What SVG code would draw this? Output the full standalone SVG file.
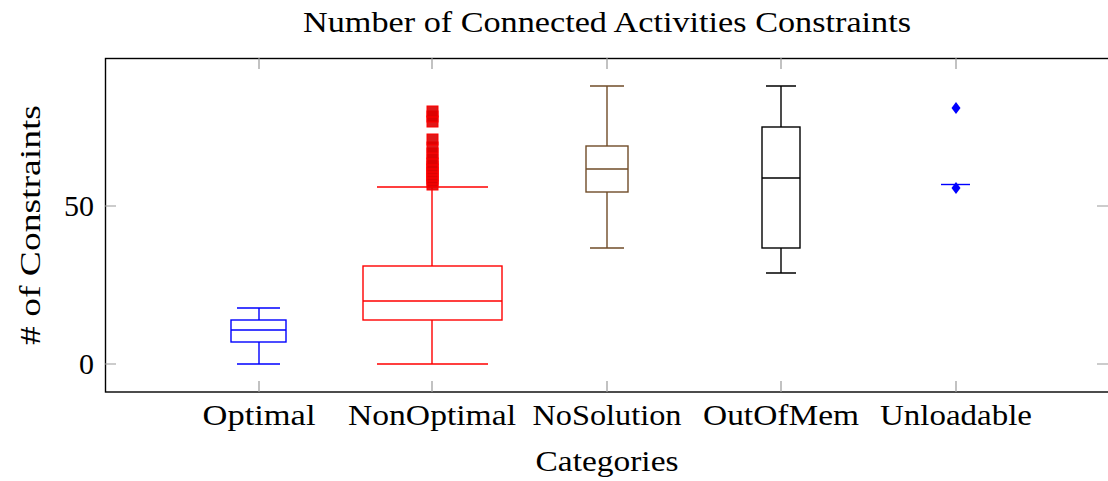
<svg xmlns="http://www.w3.org/2000/svg" width="1108" height="481" viewBox="0 0 1108 481">
  <style>
    .txt { font-family: "Liberation Serif", "DejaVu Serif", serif; fill: #000; font-size: 29px; }
    .tick { stroke: #9a9a9a; stroke-width: 1.2; fill: none; }
    .box { fill: none; stroke-width: 1.4; }
  </style>
  <rect width="1108" height="481" fill="#fff"/>

  <!-- title -->
  <text class="txt" x="607" y="32" text-anchor="middle" textLength="608" lengthAdjust="spacingAndGlyphs">Number of Connected Activities Constraints</text>

  <!-- axes frame and ticks -->
  <g id="axes">
    <rect x="105.5" y="58.5" width="1010" height="333.5" fill="none" stroke="#000" stroke-width="1.4"/>
    <path class="tick" d="M105 206H116M105 364H116M1097 206H1108M1097 364H1108"/>
    <path class="tick" d="M259 392V381M432 392V381M607 392V381M781 392V381M956 392V381M259 58V69M432 58V69M607 58V69M781 58V69M956 58V69"/>
    <text class="txt" x="94" y="216" text-anchor="end" textLength="30" lengthAdjust="spacingAndGlyphs">50</text>
    <text class="txt" x="94" y="374" text-anchor="end" textLength="15" lengthAdjust="spacingAndGlyphs">0</text>
    <text class="txt" x="259" y="425" text-anchor="middle" textLength="113" lengthAdjust="spacingAndGlyphs">Optimal</text>
    <text class="txt" x="432" y="425" text-anchor="middle" textLength="168" lengthAdjust="spacingAndGlyphs">NonOptimal</text>
    <text class="txt" x="607" y="425" text-anchor="middle" textLength="149" lengthAdjust="spacingAndGlyphs">NoSolution</text>
    <text class="txt" x="781" y="425" text-anchor="middle" textLength="156" lengthAdjust="spacingAndGlyphs">OutOfMem</text>
    <text class="txt" x="956" y="425" text-anchor="middle" textLength="152" lengthAdjust="spacingAndGlyphs">Unloadable</text>
    <text class="txt" x="607" y="471" text-anchor="middle" textLength="143" lengthAdjust="spacingAndGlyphs">Categories</text>
    <text class="txt" text-anchor="middle" transform="translate(40 225) rotate(-90)" textLength="240" lengthAdjust="spacingAndGlyphs"># of Constraints</text>
  </g>

  <!-- Optimal -->
  <g id="optimal" class="box" stroke="#0000ff">
    <rect x="231" y="320" width="55" height="22"/>
    <path d="M231 330H286M259 320V308M259 342V364M237 308H280M237 364H280"/>
  </g>

  <!-- NonOptimal -->
  <g id="nonoptimal">
    <g class="box" stroke="#ff0000">
      <rect x="363" y="266" width="139" height="54"/>
      <path d="M363 301H502M432 266V187M432 320V364M377 187H488M377 364H488"/>
    </g>
    <g fill="#dd0000" stroke="#ff0000" stroke-width="1" fill-opacity="0.9">
      <rect x="427" y="179" width="11" height="11"/>
      <rect x="427" y="176" width="11" height="11"/>
      <rect x="427" y="173" width="11" height="11"/>
      <rect x="427" y="170" width="11" height="11"/>
      <rect x="427" y="167" width="11" height="11"/>
      <rect x="427" y="164" width="11" height="11"/>
      <rect x="427" y="161" width="11" height="11"/>
      <rect x="427" y="158" width="11" height="11"/>
      <rect x="427" y="154" width="11" height="11"/>
      <rect x="427" y="148" width="11" height="11"/>
      <rect x="427" y="142" width="11" height="11"/>
      <rect x="427" y="134" width="11" height="11"/>
      <rect x="427" y="116" width="11" height="11"/>
      <rect x="427" y="111" width="11" height="11"/>
      <rect x="427" y="106" width="11" height="11"/>
    </g>
  </g>

  <!-- NoSolution -->
  <g id="nosolution" class="box" stroke="#704c28">
    <rect x="586" y="146" width="42" height="46"/>
    <path d="M586 169H628M607 146V86M607 192V248M590 86H624M590 248H624"/>
  </g>

  <!-- OutOfMem -->
  <g id="outofmem" class="box" stroke="#000">
    <rect x="762" y="127" width="38" height="121"/>
    <path d="M762 178H800M781 127V86M781 248V273M766 86H796M766 273H796"/>
  </g>

  <!-- Unloadable -->
  <g id="unloadable">
    <path class="box" stroke="#0000ff" d="M941 184.5H970"/>
    <g fill="#0000ff">
      <path d="M956 102L960.5 108L956 114L951.5 108Z"/>
      <path d="M956 182L960.5 188L956 194L951.5 188Z"/>
    </g>
  </g>
</svg>
